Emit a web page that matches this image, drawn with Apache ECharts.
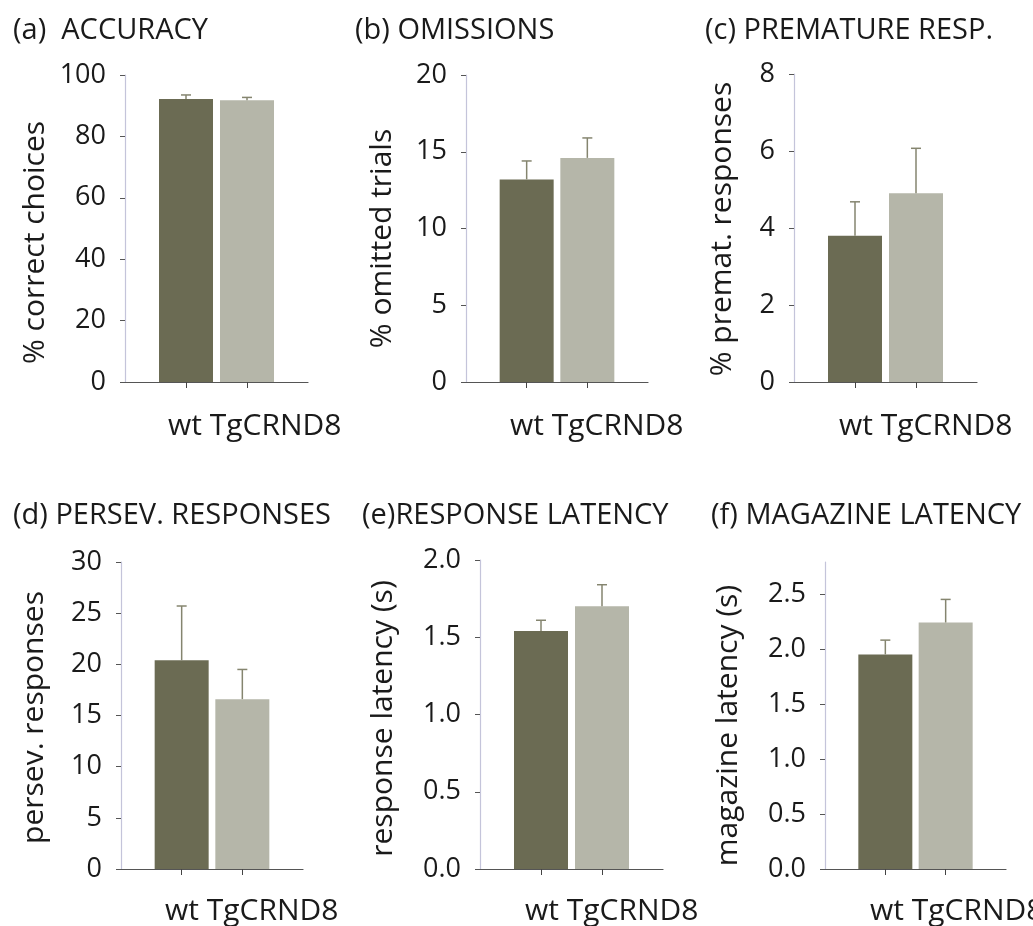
<html>
<head>
<meta charset="UTF-8">
<title>5-CSRTT panels</title>
<script src="https://cdn.jsdelivr.net/npm/echarts@6/dist/echarts.min.js"></script>
<style>html,body,#container{width:100%;height:100%;margin:0;padding:0;background:#fff;}</style>
</head>
<body>
<div id="container"></div>
<script>
// groups and panel texts
var groups = ['wt', 'TgCRND8'];
var panelTitles = ['(a)  ACCURACY', '(b) OMISSIONS', '(c) PREMATURE RESP.',
                   '(d) PERSEV. RESPONSES', '(e)RESPONSE LATENCY', '(f) MAGAZINE LATENCY'];
var yNames = ['% correct choices', '% omitted trials', '% premat. responses',
              'persev. responses', 'response latency (s)', 'magazine latency (s)'];

// means and SEM (wt, TgCRND8)
var accuracyMean = [92.2, 91.8],  accuracyErr = [1.3, 0.9];
var omissionsMean = [13.2, 14.6], omissionsErr = [1.2, 1.3];
var prematureMean = [3.8, 4.9],   prematureErr = [0.88, 1.17];
var persevMean = [20.4, 16.6],    persevErr = [5.3, 2.9];
var respLatMean = [1.54, 1.70],   respLatErr = [0.07, 0.14];
var magLatMean = [1.95, 2.24],    magLatErr = [0.13, 0.21];

// y axis ticks
var yTicks = [
  [0, 20, 40, 60, 80, 100],
  [0, 5, 10, 15, 20],
  [0, 2, 4, 6, 8],
  [0, 5, 10, 15, 20, 25, 30],
  [0, 0.5, 1.0, 1.5, 2.0],
  [0, 0.5, 1.0, 1.5, 2.0, 2.5]
];
var yMax = [100, 20, 8, 30, 2, 2.79];
var yDecimals = [0, 0, 0, 0, 1, 1];

var means = [accuracyMean, omissionsMean, prematureMean, persevMean, respLatMean, magLatMean];
var errs = [accuracyErr, omissionsErr, prematureErr, persevErr, respLatErr, magLatErr];

// layout
var grids = [
  {left: 125, top: 75, width: 183, height: 307},
  {left: 466, top: 75, width: 182, height: 307},
  {left: 794, top: 74, width: 183, height: 308},
  {left: 121, top: 562, width: 182, height: 307},
  {left: 480, top: 560, width: 183, height: 309},
  {left: 825, top: 562, width: 181, height: 307}
];
var titlePos = [[13, 16], [355, 16], [705, 16], [13, 501], [362, 501], [711, 501]];
var catTextPos = [[168, 411], [510, 411], [839, 411], [165, 896], [525, 896], [870, 896]];
var nameGaps = [75, 69, 57, 72, 82, 82];
var nameShift = [14, 10, 1, 2, 4, 10];

var darkCol = '#6b6b53';
var lightCol = '#b5b6a9';
var errCol = '#85856f';
var font = '"Open Sans", "Noto Sans", sans-serif';

var myChart = echarts.init(document.getElementById('container'));

var option = {
  animation: false,
  backgroundColor: '#fff',
  title: [],
  grid: [],
  xAxis: [],
  yAxis: [],
  series: [],
  graphic: []
};

for (var i = 0; i < 6; i++) {
  var g = grids[i];
  option.grid.push({left: g.left, top: g.top, width: g.width, height: g.height, outerBoundsMode: 'none'});
  option.title.push({
    text: panelTitles[i], left: titlePos[i][0], top: titlePos[i][1], padding: 0,
    textStyle: {fontFamily: font, fontSize: 29, fontWeight: 'normal', color: '#1a1a1a'}
  });
  option.graphic.push({
    type: 'text', left: catTextPos[i][0], top: catTextPos[i][1],
    style: {text: groups.join(' '), font: '30px ' + font, fill: '#1a1a1a'}
  });
  option.xAxis.push({
    type: 'category', gridIndex: i, boundaryGap: false,
    data: ['', groups[0], groups[1], ''],
    axisLine: {lineStyle: {color: '#555', width: 1.2}},
    axisTick: {show: true, length: 6, lineStyle: {color: '#444'},
      interval: function (idx) { return idx === 1 || idx === 2; }},
    axisLabel: {show: false},
    splitLine: {show: false}
  });
  (function (dec, ticks) {
    option.yAxis.push({
      type: 'value', gridIndex: i, min: 0, max: yMax[i],
      interval: ticks[1] - ticks[0],
      name: yNames[i], nameLocation: 'middle', nameRotate: 90, nameGap: nameGaps[i],
      nameTextStyle: {fontFamily: font, fontSize: 30, color: '#1a1a1a',
        padding: [0, 2 * nameShift[i], 0, 0]},
      axisLine: {show: true, lineStyle: {color: '#c4c4da', width: 1.2}},
      axisTick: {show: true, length: 5, lineStyle: {color: '#555'}, customValues: ticks},
      axisLabel: {fontFamily: font, fontSize: 27, color: '#1a1a1a', margin: 19,
        customValues: ticks,
        formatter: function (v) { return v.toFixed(dec); }},
      splitLine: {show: false}
    });
  })(yDecimals[i], yTicks[i]);

  option.series.push({
    type: 'bar', xAxisIndex: i, yAxisIndex: i, barWidth: 54,
    data: ['-', {value: means[i][0], itemStyle: {color: darkCol}},
                {value: means[i][1], itemStyle: {color: lightCol}}, '-']
  });
  option.series.push({
    type: 'custom', xAxisIndex: i, yAxisIndex: i, z: 5,
    data: [[1, means[i][0], errs[i][0]], [2, means[i][1], errs[i][1]]],
    renderItem: function (params, api) {
      var x = api.value(0), m = api.value(1), e = api.value(2);
      var p0 = api.coord([x, m]);
      var p1 = api.coord([x, m + e]);
      var st = {stroke: errCol, lineWidth: 1.5};
      return {
        type: 'group',
        children: [
          {type: 'line', shape: {x1: p0[0], y1: p0[1], x2: p1[0], y2: p1[1]}, style: st},
          {type: 'line', shape: {x1: p1[0] - 5, y1: p1[1], x2: p1[0] + 5, y2: p1[1]}, style: st}
        ]
      };
    }
  });
}

myChart.setOption(option);

window.onresize = function () {
  myChart.resize();
};
</script>
</body>
</html>
